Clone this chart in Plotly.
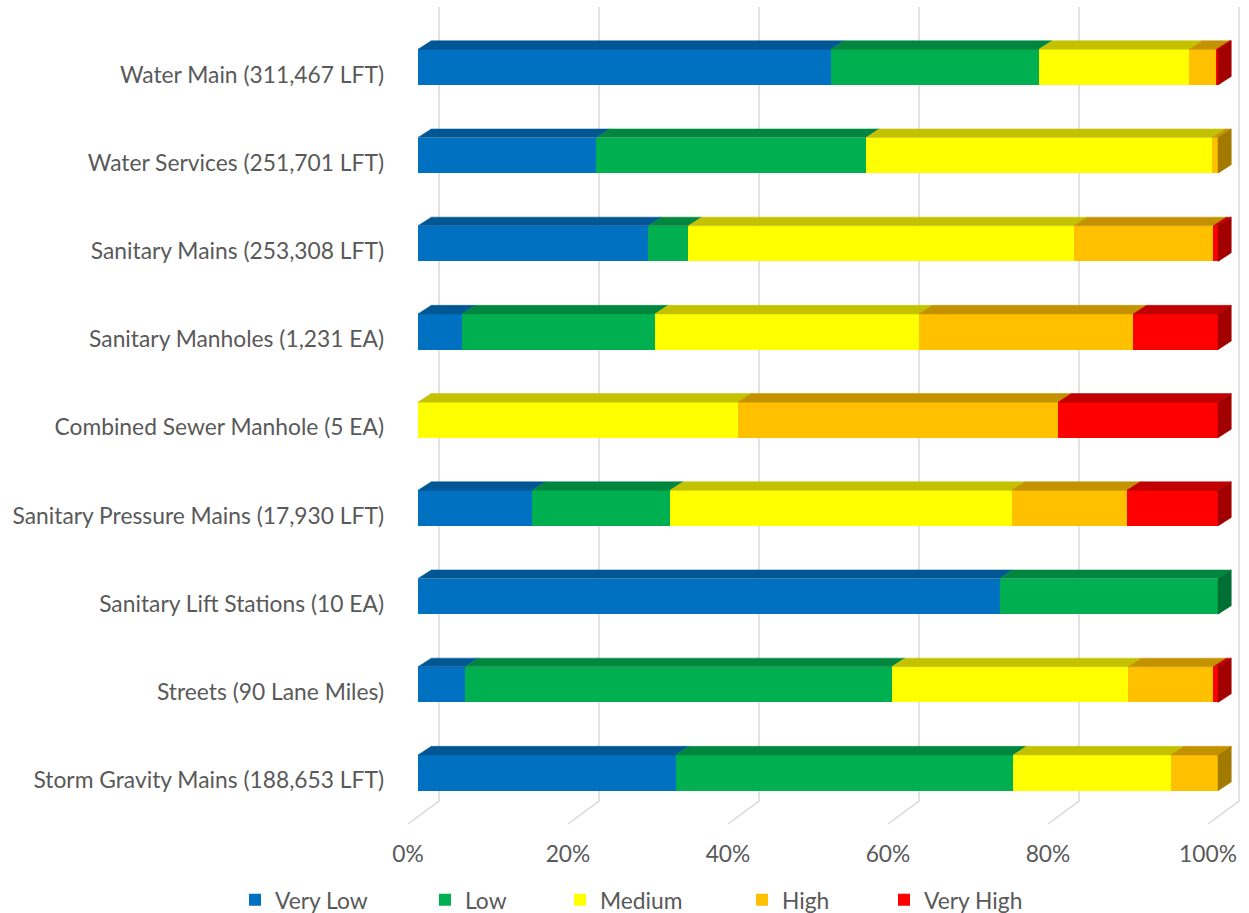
import plotly.graph_objects as go

categories = [
    "Water Main (311,467 LFT)",
    "Water Services (251,701 LFT)",
    "Sanitary Mains (253,308 LFT)",
    "Sanitary Manholes (1,231 EA)",
    "Combined Sewer Manhole (5 EA)",
    "Sanitary Pressure Mains (17,930 LFT)",
    "Sanitary Lift Stations (10 EA)",
    "Streets (90 Lane Miles)",
    "Storm Gravity Mains (188,653 LFT)",
]
levels = ["Very Low", "Low", "Medium", "High", "Very High"]
very_low = [51.6, 22.3, 28.8, 5.5, 0.0, 14.3, 72.7, 5.9, 32.2]
low = [26.0, 33.7, 5.0, 24.1, 0.0, 17.2, 27.3, 53.3, 42.2]
medium = [18.8, 43.3, 48.2, 33.0, 40.0, 42.7, 0.0, 29.6, 19.7]
high = [3.4, 0.7, 17.4, 26.8, 40.0, 14.4, 0.0, 10.6, 5.9]
very_high = [0.2, 0.0, 0.6, 10.6, 20.0, 11.4, 0.0, 0.6, 0.0]
x_ticks = [0, 20, 40, 60, 80, 100]

series = [very_low, low, medium, high, very_high]
front_colors = ["#0070C0", "#00B050", "#FFFF00", "#FFC000", "#FF0000"]
top_colors = ["#005794", "#00863E", "#C4C200", "#C49200", "#C00000"]
side_colors = ["#004A7D", "#006F33", "#A3A100", "#A37A00", "#A30000"]

FONT = "Lato"
FS = 22.8
TXT = "#595959"
BAR_H = 0.405
DX = 1.66     # depth offset, x units
DY = 0.0975   # depth offset, y units
GRID_BACK = 2.625
GRID_FRONT = -1.25
GRID_TOP = 8.683
GRID_BOT = -0.32
FLOOR = -0.5805

n = len(categories)
pos = [n - 1 - i for i in range(n)]

fig = go.Figure()

legend_names = ["legend", "legend2", "legend3", "legend4", "legend5"]
for k, s in enumerate(series):
    fig.add_trace(go.Bar(
        orientation="h", x=s, y=pos, width=BAR_H, name=levels[k],
        marker=dict(color=front_colors[k], line=dict(width=0)),
        legend=legend_names[k], hoverinfo="skip",
    ))

tops = [([], []) for _ in series]
sides = [([], []) for _ in series]
for i, p in enumerate(pos):
    cum = 0.0
    last = None
    yt = p + BAR_H / 2
    yb = p - BAR_H / 2
    for k, s in enumerate(series):
        v = s[i]
        if v <= 0:
            continue
        x0, x1 = cum, cum + v
        tx, ty = tops[k]
        tx += [x0, x1, x1 + DX, x0 + DX, x0, None]
        ty += [yt, yt, yt + DY, yt + DY, yt, None]
        cum = x1
        last = k
    sx, sy = sides[last]
    sx += [cum, cum, cum + DX, cum + DX, cum, None]
    sy += [yb, yt, yt + DY, yb + DY, yb, None]

for k in range(len(series)):
    for (xs, ys), col in ((tops[k], top_colors[k]), (sides[k], side_colors[k])):
        if xs:
            fig.add_trace(go.Scatter(
                x=xs, y=ys, mode="lines", fill="toself", fillcolor=col,
                line=dict(color=col, width=0.5), showlegend=False, hoverinfo="skip",
            ))

shapes = []
for t in x_ticks:
    shapes.append(dict(
        type="path", xref="x", yref="y", layer="below",
        path=f"M {t + GRID_BACK},{GRID_TOP} L {t + GRID_BACK},{GRID_BOT} L {t + GRID_FRONT},{FLOOR}",
        line=dict(color="#D9D9D9", width=1.5),
    ))

layout_legends = {}
legend_x_px = [235, 425, 560, 742, 884]
for name, xp in zip(legend_names, legend_x_px):
    layout_legends[name] = dict(
        x=xp / 1249, xref="container", xanchor="left",
        y=13 / 913, yref="container", yanchor="middle",
        orientation="h", font=dict(family=FONT, size=FS, color=TXT),
        bgcolor="rgba(0,0,0,0)",
    )

fig.update_layout(
    width=1249, height=913,
    margin=dict(l=392, r=3, t=4, b=85),
    paper_bgcolor="white", plot_bgcolor="white",
    barmode="stack", bargap=0,
    shapes=shapes,
    font=dict(family=FONT, size=FS, color=TXT),
    xaxis=dict(
        range=[-3.25, 103.5], tickvals=[t + GRID_FRONT for t in x_ticks],
        ticktext=[f"{t}%" for t in x_ticks], showgrid=False, zeroline=False,
        showline=False, ticks="", tickfont=dict(family=FONT, size=FS, color=TXT),
        ticklabelstandoff=10,
    ),
    yaxis=dict(
        range=[-0.6259, 8.7166], tickvals=[p - 0.085 for p in pos],
        ticktext=categories, showgrid=False, zeroline=False, showline=False,
        ticks="", tickfont=dict(family=FONT, size=FS, color=TXT),
        ticklabelstandoff=7,
    ),
    **layout_legends,
)

fig.write_html("out.html", config={"displayModeBar": False},
               post_script="document.body.style.margin='0';")
